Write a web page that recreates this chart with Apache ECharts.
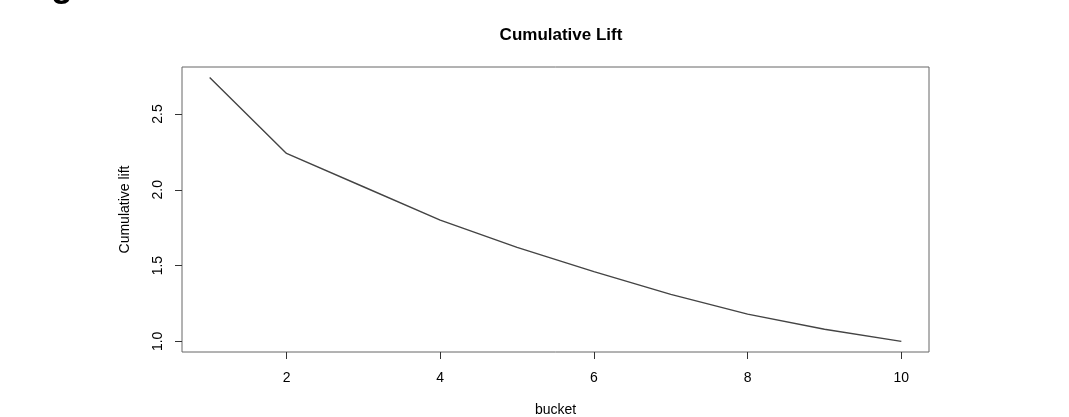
<!DOCTYPE html>
<html>
<head>
<meta charset="utf-8">
<script src="https://cdn.jsdelivr.net/npm/echarts@6/dist/echarts.min.js"></script>
<style>
  html, body { margin: 0; padding: 0; background: #fff; }
  #chart { width: 1069px; height: 417px; }
</style>
</head>
<body>
<div id="chart"></div>
<script>
var buckets = [1, 2, 3, 4, 5, 6, 7, 8, 9, 10];
var cumLift = [2.74, 2.24, 2.02, 1.80, 1.62, 1.46, 1.31, 1.18, 1.08, 1.00];
var xTicks = [2, 4, 6, 8, 10];
var yTicks = [1.0, 1.5, 2.0, 2.5];

var points = buckets.map(function (b, i) { return [b, cumLift[i]]; });

var font = 'Liberation Sans, Arial, sans-serif';
var myChart = echarts.init(document.getElementById('chart'));
var option = {
    backgroundColor: '#fff',
    animation: false,
    title: {
        text: 'Cumulative Lift',
        left: 556,
        textAlign: 'center',
        top: 22,
        textStyle: { fontFamily: font, fontSize: 17, fontWeight: 'bold', color: '#000' }
    },
    graphic: [{
        type: 'text',
        left: 51,
        top: -32,
        style: { text: 'g', font: 'bold 36px ' + font, fill: '#000' }
    }],
    grid: {
        left: 182, top: 67, right: 140, bottom: 65,
        outerBoundsMode: 'none',
        containLabel: false,
        show: true, borderColor: '#666', borderWidth: 1
    },
    xAxis: {
        type: 'value',
        min: 0.64,
        max: 10.36,
        name: 'bucket',
        nameLocation: 'middle',
        nameGap: 51,
        nameTextStyle: { fontFamily: font, fontSize: 14, color: '#000' },
        axisLine: { show: false },
        axisTick: { show: true, length: 7, lineStyle: { color: '#333' }, customValues: xTicks },
        axisLabel: { fontFamily: font, fontSize: 14, color: '#000', margin: 19, customValues: xTicks,
            formatter: function (v) { return String(v); } },
        splitLine: { show: false }
    },
    yAxis: {
        type: 'value',
        min: 0.93,
        max: 2.81,
        name: 'Cumulative lift',
        nameLocation: 'middle',
        nameRotate: 90,
        nameGap: 50,
        nameTextStyle: { fontFamily: font, fontSize: 14, color: '#000' },
        axisLine: { show: false },
        axisTick: { show: true, length: 7, lineStyle: { color: '#333' }, customValues: yTicks },
        axisLabel: { fontFamily: font, fontSize: 14, color: '#000', rotate: 90, margin: 17, customValues: yTicks,
            formatter: function (v) { return v.toFixed(1); } },
        splitLine: { show: false }
    },
    series: [{
        type: 'line',
        data: points,
        showSymbol: false,
        lineStyle: { color: '#444', width: 1.4 }
    }]
};
myChart.setOption(option);
</script>
</body>
</html>
